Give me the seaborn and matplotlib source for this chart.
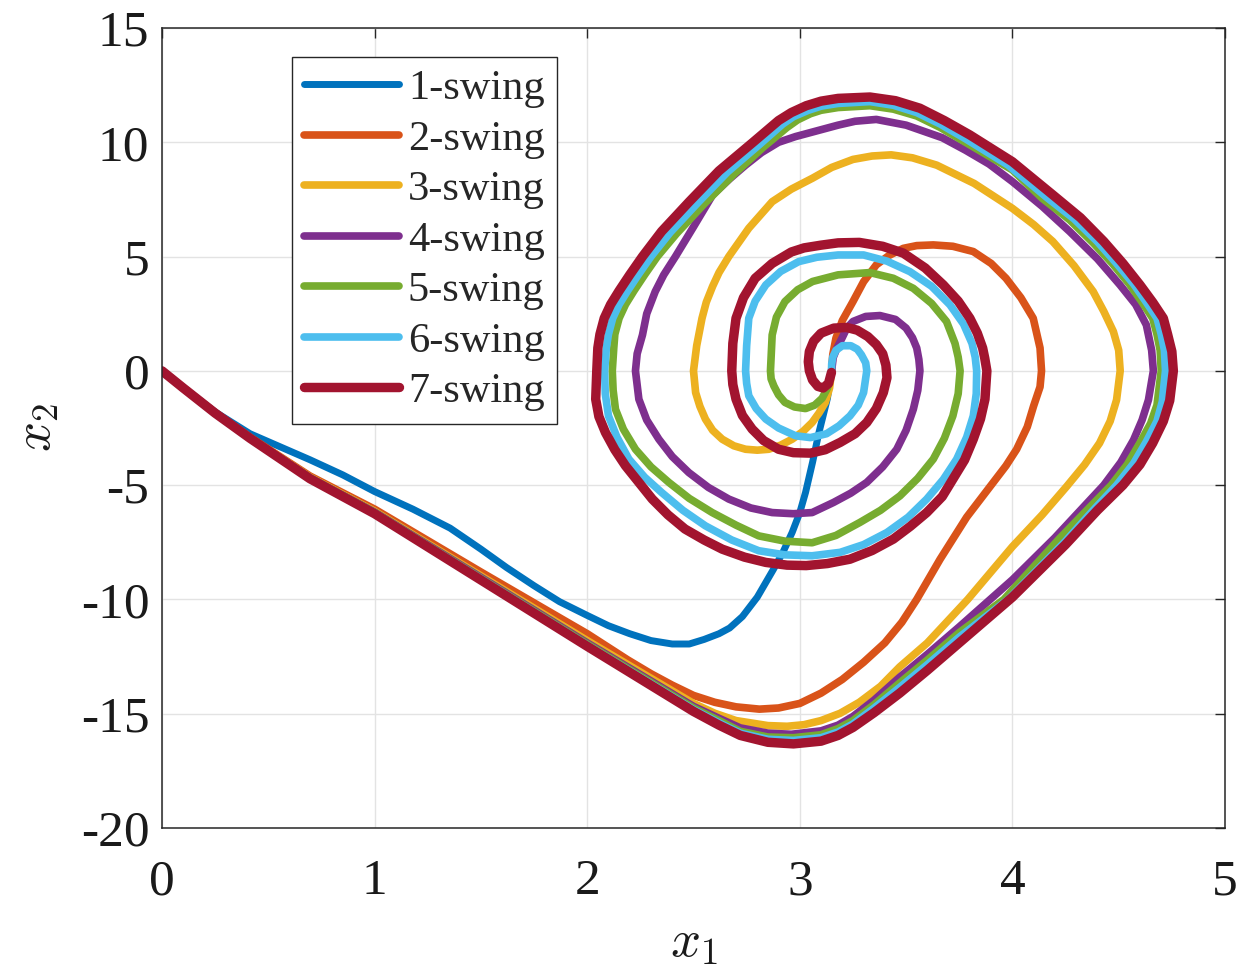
import matplotlib
matplotlib.use("Agg")
import matplotlib.pyplot as plt
import pandas as pd
import seaborn as sns

# ---- data: (x1, x2) points along each trajectory ----
swing1 = [(0, 0), (0.1, -0.75), (0.25, -1.8), (0.414, -2.75), (0.55, -3.3), (0.696, -3.89),
          (0.85, -4.55), (1.0, -5.28), (1.18, -6.05), (1.355, -6.88), (1.5, -7.8), (1.62, -8.6),
          (1.75, -9.4), (1.87, -10.1), (2.0, -10.7), (2.1, -11.15), (2.2, -11.5), (2.3, -11.8),
          (2.4, -11.95), (2.48, -11.95), (2.55, -11.75), (2.62, -11.5), (2.67, -11.25),
          (2.73, -10.75), (2.8, -9.9), (2.875, -8.7), (2.92, -7.95), (2.964, -7.07), (3.0, -6.2),
          (3.027, -5.32), (3.06, -4.0), (3.09, -2.7), (3.13, -1.2), (3.149, -0.07)]

swing2 = [(0, 0), (0.1, -0.75), (0.25, -1.83), (0.414, -2.9), (0.696, -4.6), (1.0, -6.05),
          (1.5, -8.8), (1.87, -10.8), (2.0, -11.5), (2.19, -12.64), (2.3, -13.25), (2.4, -13.75),
          (2.5, -14.2), (2.6, -14.5), (2.7, -14.7), (2.81, -14.8), (2.9, -14.75), (3.0, -14.55),
          (3.1, -14.1), (3.2, -13.5), (3.3, -12.75), (3.4, -11.9), (3.48, -11.0), (3.55, -10.0),
          (3.66, -8.24), (3.785, -6.4), (3.91, -4.88), (3.97, -4.15), (4.02, -3.43), (4.07, -2.45),
          (4.1, -1.53), (4.13, -0.7), (4.137, 0.0), (4.13, 1.0), (4.098, 2.3), (4.04, 3.2),
          (3.97, 4.05), (3.9, 4.7), (3.816, 5.22), (3.72, 5.45), (3.628, 5.51), (3.55, 5.48),
          (3.487, 5.36), (3.42, 5.05), (3.36, 4.64), (3.3, 3.9), (3.25, 3.03), (3.2, 2.2),
          (3.17, 1.43), (3.155, 0.7), (3.149, -0.07)]

swing3 = [(0, 0), (0.1, -0.75), (0.25, -1.84), (0.414, -2.92), (0.696, -4.65), (1.0, -6.14),
          (1.5, -8.97), (2.0, -11.8), (2.5, -14.55), (2.6, -14.98), (2.7, -15.3), (2.85, -15.52),
          (2.94, -15.55), (3.02, -15.48), (3.1, -15.3), (3.19, -14.98), (3.28, -14.5), (3.38, -13.8),
          (3.47, -12.95), (3.6, -11.9), (3.79, -10.0), (4.0, -7.69), (4.14, -6.3), (4.255, -5.06),
          (4.34, -4.1), (4.41, -3.16), (4.46, -2.2), (4.49, -1.27), (4.507, 0.0), (4.5, 0.9),
          (4.475, 1.72), (4.43, 2.6), (4.38, 3.47), (4.29, 4.6), (4.19, 5.66), (4.1, 6.4),
          (4.0, 7.11), (3.82, 8.2), (3.644, 9.0), (3.53, 9.32), (3.43, 9.45), (3.34, 9.4),
          (3.25, 9.25), (3.15, 8.9), (3.06, 8.43), (2.96, 7.95), (2.87, 7.4), (2.76, 6.24),
          (2.666, 5.0), (2.62, 4.3), (2.59, 3.7), (2.56, 3.0), (2.54, 2.3), (2.515, 1.1), (2.5, 0.0),
          (2.51, -0.95), (2.53, -1.55), (2.556, -2.11), (2.59, -2.6), (2.635, -2.99), (2.69, -3.28),
          (2.745, -3.43), (2.8, -3.47), (2.854, -3.43), (2.91, -3.25), (2.964, -2.99),
          (3.015, -2.65), (3.058, -2.26), (3.09, -1.85), (3.12, -1.38), (3.14, -0.75),
          (3.149, -0.07)]

swing4 = [(0, 0), (0.1, -0.75), (0.25, -1.85), (0.414, -2.94), (0.696, -4.68), (1.0, -6.18),
          (1.5, -9.03), (2.0, -11.9), (2.5, -14.68), (2.62, -15.2), (2.72, -15.62), (2.85, -15.85),
          (2.96, -15.9), (3.1, -15.75), (3.18, -15.5), (3.25, -15.12), (3.35, -14.4), (3.47, -13.4),
          (3.6, -12.4), (3.75, -11.2), (4.0, -9.14), (4.2, -7.3), (4.32, -6.1), (4.43, -5.0),
          (4.51, -4.0), (4.57, -3.02), (4.61, -2.15), (4.64, -1.27), (4.663, 0.0), (4.655, 0.9),
          (4.63, 2.01), (4.58, 2.9), (4.506, 3.76), (4.4, 4.9), (4.27, 6.09), (4.14, 7.2),
          (4.0, 8.28), (3.89, 9.05), (3.78, 9.65), (3.67, 10.2), (3.5, 10.75), (3.36, 11.0),
          (3.26, 10.92), (3.18, 10.75), (3.06, 10.45), (2.98, 10.25), (2.9, 10.0), (2.82, 9.55),
          (2.745, 9.0), (2.67, 8.4), (2.59, 7.7), (2.5, 6.3), (2.415, 5.0), (2.36, 4.2),
          (2.32, 3.47), (2.28, 2.5), (2.26, 1.57), (2.235, 0.75), (2.227, 0.0), (2.243, -1.24),
          (2.28, -2.15), (2.337, -2.99), (2.4, -3.75), (2.478, -4.45), (2.57, -5.1), (2.666, -5.61),
          (2.77, -6.0), (2.87, -6.2), (2.97, -6.25), (3.058, -6.2), (3.158, -5.76), (3.24, -5.35),
          (3.315, -4.88), (3.39, -4.2), (3.456, -3.43), (3.5, -2.6), (3.534, -1.68),
          (3.555, -0.85), (3.565, 0.0), (3.56, 0.5), (3.55, 1.0), (3.53, 1.45), (3.5, 1.87),
          (3.45, 2.25), (3.377, 2.42), (3.31, 2.38), (3.25, 2.16), (3.22, 1.85), (3.2, 1.46),
          (3.175, 1.0), (3.157, 0.58), (3.149, -0.07)]

swing5 = [(0, 0), (0.1, -0.75), (0.25, -1.85), (0.414, -2.95), (0.696, -4.69), (1.0, -6.2),
          (1.5, -9.07), (2.0, -11.95), (2.5, -14.75), (2.62, -15.3), (2.72, -15.77), (2.85, -16.02),
          (2.97, -16.05), (3.1, -15.92), (3.18, -15.65), (3.25, -15.3), (3.35, -14.6),
          (3.47, -13.65), (3.6, -12.65), (3.75, -11.45), (3.96, -10.0), (4.22, -7.35), (4.35, -6.1),
          (4.465, -5.0), (4.54, -4.1), (4.6, -3.15), (4.65, -2.3), (4.68, -1.5), (4.7, 0.0),
          (4.695, 0.9), (4.68, 1.6), (4.66, 2.3), (4.61, 3.0), (4.55, 3.8), (4.47, 4.7), (4.38, 5.6),
          (4.27, 6.6), (4.14, 7.55), (4.0, 8.79), (3.77, 10.05), (3.66, 10.65), (3.55, 11.15),
          (3.44, 11.45), (3.33, 11.6), (3.18, 11.52), (3.1, 11.4), (3.05, 11.25), (2.99, 10.98),
          (2.94, 10.65), (2.83, 9.8), (2.69, 8.6), (2.55, 7.3), (2.42, 6.0), (2.33, 5.0),
          (2.27, 4.2), (2.22, 3.5), (2.18, 2.9), (2.15, 2.3), (2.13, 1.6), (2.125, 1.0),
          (2.118, 0.0), (2.122, -0.85), (2.133, -1.68), (2.17, -2.55), (2.227, -3.43), (2.3, -4.2),
          (2.384, -4.88), (2.48, -5.58), (2.588, -6.2), (2.7, -6.75), (2.807, -7.22), (2.93, -7.45),
          (3.058, -7.52), (3.17, -7.2), (3.283, -6.63), (3.38, -6.1), (3.471, -5.47),
          (3.555, -4.7), (3.628, -3.86), (3.68, -2.95), (3.72, -1.97), (3.745, -1.0), (3.754, 0.0),
          (3.745, 0.6), (3.73, 1.2), (3.69, 2.16), (3.62, 2.95), (3.534, 3.61), (3.44, 4.05),
          (3.33, 4.3), (3.18, 4.2), (3.06, 3.91), (2.99, 3.55), (2.93, 3.03), (2.89, 2.35),
          (2.87, 1.57), (2.862, 0.0), (2.865, -0.35), (2.878, -0.66), (2.9, -1.05), (2.93, -1.38),
          (2.975, -1.58), (3.027, -1.65), (3.07, -1.5), (3.105, -1.2), (3.13, -0.75),
          (3.149, -0.07)]

swing6 = [(0, 0), (0.1, -0.75), (0.25, -1.85), (0.414, -2.95), (0.696, -4.7), (1.0, -6.22),
          (1.5, -9.1), (2.0, -12.0), (2.5, -14.82), (2.62, -15.4), (2.72, -15.85), (2.85, -16.12),
          (2.97, -16.17), (3.1, -16.05), (3.18, -15.8), (3.25, -15.45), (3.35, -14.75),
          (3.47, -13.85), (3.6, -12.85), (3.75, -11.65), (3.98, -10.0), (4.25, -7.45), (4.38, -6.1),
          (4.49, -5.0), (4.57, -4.05), (4.63, -3.1), (4.68, -2.2), (4.705, -1.35), (4.72, 0.0),
          (4.715, 0.9), (4.7, 1.6), (4.68, 2.3), (4.63, 3.0), (4.57, 3.8), (4.49, 4.7), (4.4, 5.65),
          (4.29, 6.65), (4.16, 7.6), (3.98, 9.0), (3.78, 10.15), (3.66, 10.8), (3.55, 11.3),
          (3.44, 11.62), (3.33, 11.78), (3.18, 11.7), (3.1, 11.58), (3.04, 11.4), (2.97, 11.12),
          (2.92, 10.8), (2.81, 9.9), (2.66, 8.7), (2.52, 7.35), (2.39, 6.05), (2.3, 5.0),
          (2.24, 4.2), (2.19, 3.5), (2.15, 2.9), (2.12, 2.3), (2.1, 1.6), (2.09, 1.0), (2.082, 0.0),
          (2.085, -1.0), (2.1, -1.97), (2.14, -2.9), (2.196, -3.86), (2.27, -4.65), (2.35, -5.32),
          (2.45, -6.1), (2.556, -6.78), (2.68, -7.4), (2.807, -7.87), (2.93, -8.05), (3.058, -8.09),
          (3.19, -7.94), (3.3, -7.6), (3.41, -7.07), (3.51, -6.4), (3.597, -5.61), (3.675, -4.75),
          (3.738, -3.86), (3.785, -2.9), (3.816, -1.97), (3.83, -1.0), (3.832, 0.0), (3.825, 0.6),
          (3.81, 1.2), (3.77, 2.05), (3.706, 2.89), (3.62, 3.7), (3.518, 4.34), (3.41, 4.8),
          (3.3, 5.07), (3.18, 5.07), (3.08, 4.97), (2.995, 4.78), (2.91, 4.35), (2.84, 3.76),
          (2.79, 3.05), (2.76, 2.3), (2.75, 1.1), (2.745, 0.0), (2.75, -0.55), (2.76, -1.09),
          (2.795, -1.65), (2.84, -2.11), (2.9, -2.5), (2.98, -2.84), (3.05, -2.92), (3.126, -2.75),
          (3.185, -2.4), (3.236, -1.97), (3.275, -1.5), (3.3, -0.95), (3.315, 0.0), (3.31, 0.35),
          (3.29, 0.7), (3.27, 0.95), (3.24, 1.1), (3.2, 1.1), (3.17, 0.9), (3.155, 0.6),
          (3.15, 0.3), (3.149, 0.0)]

swing7 = [(0, 0), (0.1, -0.75), (0.25, -1.85), (0.414, -2.95), (0.696, -4.72), (1.0, -6.25),
          (1.5, -9.15), (2.0, -12.05), (2.5, -14.9), (2.62, -15.5), (2.72, -15.95), (2.85, -16.25),
          (2.97, -16.32), (3.1, -16.2), (3.18, -15.95), (3.25, -15.6), (3.35, -14.95), (3.47, -14.1),
          (3.6, -13.1), (3.75, -11.9), (4.0, -9.9), (4.25, -7.6), (4.4, -6.1), (4.52, -5.0),
          (4.6, -4.1), (4.66, -3.16), (4.71, -2.2), (4.74, -1.3), (4.757, 0.0), (4.75, 0.85),
          (4.73, 1.6), (4.71, 2.3), (4.66, 3.0), (4.6, 3.76), (4.52, 4.7), (4.43, 5.66), (4.32, 6.7),
          (4.19, 7.7), (4.0, 9.15), (3.8, 10.32), (3.68, 10.95), (3.565, 11.49), (3.45, 11.82),
          (3.33, 11.98), (3.18, 11.92), (3.1, 11.8), (3.03, 11.6), (2.96, 11.3), (2.9, 10.95),
          (2.78, 10.0), (2.62, 8.75), (2.48, 7.4), (2.35, 6.1), (2.26, 5.0), (2.2, 4.2), (2.15, 3.5),
          (2.11, 2.9), (2.08, 2.3), (2.06, 1.6), (2.05, 1.0), (2.045, 0.0), (2.04, -1.24),
          (2.055, -2.0), (2.086, -2.7), (2.13, -3.45), (2.18, -4.15), (2.306, -5.61), (2.38, -6.3),
          (2.46, -6.92), (2.55, -7.4), (2.635, -7.8), (2.74, -8.15), (2.84, -8.38), (2.94, -8.5),
          (3.03, -8.52), (3.13, -8.43), (3.236, -8.24), (3.34, -7.86), (3.44, -7.36), (3.52, -6.8),
          (3.597, -6.2), (3.67, -5.5), (3.72, -4.74), (3.775, -3.9), (3.816, -2.99), (3.85, -2.1),
          (3.871, -1.24), (3.88, 0.0), (3.87, 0.55), (3.86, 1.0), (3.835, 1.65), (3.8, 2.3),
          (3.745, 3.05), (3.675, 3.76), (3.59, 4.5), (3.487, 5.15), (3.39, 5.45), (3.28, 5.62),
          (3.18, 5.6), (3.1, 5.5), (3.02, 5.38), (2.96, 5.2), (2.87, 4.7), (2.79, 4.05),
          (2.735, 3.2), (2.7, 2.3), (2.685, 1.2), (2.68, 0.0), (2.685, -0.6), (2.7, -1.24),
          (2.73, -1.95), (2.776, -2.55), (2.83, -3.05), (2.9, -3.43), (2.97, -3.58), (3.05, -3.6),
          (3.12, -3.45), (3.19, -3.13), (3.26, -2.75), (3.315, -2.26), (3.36, -1.65),
          (3.393, -0.95), (3.41, -0.3), (3.405, 0.25), (3.39, 0.75), (3.36, 1.15), (3.32, 1.5),
          (3.27, 1.78), (3.22, 1.9), (3.16, 1.87), (3.1, 1.65), (3.065, 1.3), (3.045, 0.85),
          (3.04, 0.4), (3.045, 0.0), (3.06, -0.4), (3.085, -0.68), (3.11, -0.75), (3.135, -0.55),
          (3.149, -0.07)]

labels = ["1-swing", "2-swing", "3-swing", "4-swing", "5-swing", "6-swing", "7-swing"]
series = [swing1, swing2, swing3, swing4, swing5, swing6, swing7]
colors = ["#0072BD", "#D95319", "#EDB120", "#7E2F8E", "#77AC30", "#4DBEEE", "#A2142F"]
widths = [5.0, 5.5, 5.5, 5.5, 5.5, 5.5, 6.8]
x_ticks = [0, 1, 2, 3, 4, 5]
y_ticks = [-20, -15, -10, -5, 0, 5, 10, 15]

# ---- build long table ----
rows = []
for lab, pts in zip(labels, series):
    for i, (a, b) in enumerate(pts):
        rows.append({"swing": lab, "order": i, "x1": a, "x2": b})
df = pd.DataFrame(rows)

sns.set_theme(style="whitegrid")
plt.rcParams["font.family"] = ["Liberation Serif", "DejaVu Serif"]
plt.rcParams["mathtext.fontset"] = "cm"
plt.rcParams["axes.unicode_minus"] = False

fig = plt.figure(figsize=(12.5, 9.72), dpi=100)
fig.patch.set_facecolor("white")
ax = fig.add_axes([162 / 1250, 1 - 828 / 972, (1225 - 162) / 1250, 800 / 972])
ax.set_facecolor("white")

for lab, col, lw in zip(labels, colors, widths):
    sub = df[df["swing"] == lab].sort_values("order")
    sns.lineplot(data=sub, x="x1", y="x2", sort=False, estimator=None, color=col,
                 linewidth=lw, label=lab, ax=ax,
                 solid_joinstyle="round", solid_capstyle="round")

ax.set_xlim(0, 5)
ax.set_ylim(-20, 15)
ax.set_xticks(x_ticks)
ax.set_yticks(y_ticks)
ax.set_xticklabels([str(t) for t in x_ticks])
ax.set_yticklabels([str(t) for t in y_ticks])
ax.grid(True, color="#e3e3e3", linewidth=1.0)
for s in ax.spines.values():
    s.set_visible(True)
    s.set_color("#262626")
    s.set_linewidth(1.1)
ax.tick_params(direction="in", length=7, width=1.0, colors="#262626",
               top=True, right=True, labelsize=37, labelcolor="#1a1a1a")
ax.tick_params(axis="x", pad=22)
ax.tick_params(axis="y", pad=9)

ax.set_xlabel(r"$x_1$", fontsize=38, labelpad=10, color="#1a1a1a")
ax.set_ylabel(r"$x_2$", fontsize=38, labelpad=14, color="#1a1a1a")

leg = ax.legend(loc="upper left", bbox_to_anchor=(0.122, 0.964), borderaxespad=0,
                fontsize=30.5, handlelength=2.24, handletextpad=0.2, borderpad=0.3,
                labelspacing=0.28, frameon=True, fancybox=False, framealpha=1)
leg.get_frame().set_edgecolor("#262626")
leg.get_frame().set_linewidth(1.0)

fig.savefig("out.png", dpi=100, facecolor="white")
